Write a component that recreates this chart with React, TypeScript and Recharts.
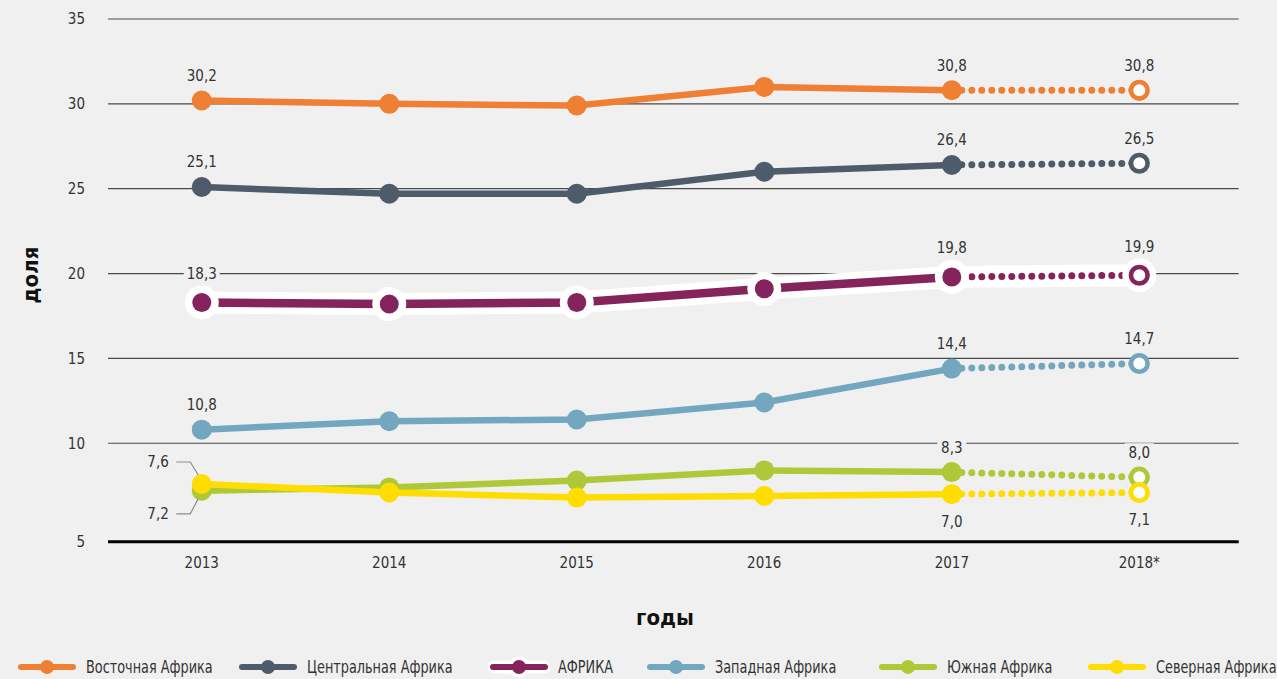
import React from "react";
import { LineChart, Line, XAxis, YAxis, CartesianGrid } from "recharts";

const YEARS = [2013, 2014, 2015, 2016, 2017, 2018];
const YEAR_LABELS = ["2013", "2014", "2015", "2016", "2017", "2018*"];
// the bottom tick sits on the axis line, it is labelled "5"
const Y_TICKS = [4.2, 10, 15, 20, 25, 30, 35];
const Y_TICK_LABELS = ["5", "10", "15", "20", "25", "30", "35"];

const EAST = [30.2, 30.0, 29.9, 31.0, 30.8, 30.8];
const CENTRAL = [25.1, 24.7, 24.7, 26.0, 26.4, 26.5];
const AFRICA = [18.3, 18.2, 18.3, 19.1, 19.8, 19.9];
const WEST = [10.8, 11.3, 11.4, 12.4, 14.4, 14.7];
const SOUTH = [7.2, 7.4, 7.8, 8.4, 8.3, 8.0];
const NORTH = [7.6, 7.1, 6.8, 6.9, 7.0, 7.1];

const LABELLED = [0, 4, 5];
const LAST_ACTUAL = 4;

const FONT = "'Liberation Sans Narrow', 'DejaVu Sans Condensed', 'Roboto', sans-serif";
const BG = "#F0F0F0";
const TEXT = "#333";

type Pos = "above" | "below" | "leftUp" | "leftDown";

const SERIES = [
  { key: "east", name: "Восточная Африка", values: EAST, color: "#EE7F33", width: 6.5, r: 10, pos: ["above", "above", "above"] as Pos[] },
  { key: "central", name: "Центральная Африка", values: CENTRAL, color: "#4E5B6B", width: 6.5, r: 10, pos: ["above", "above", "above"] as Pos[] },
  { key: "africa", name: "АФРИКА", values: AFRICA, color: "#85235D", width: 8.5, r: 9.5, halo: true, pos: ["above", "above", "above"] as Pos[] },
  { key: "west", name: "Западная Африка", values: WEST, color: "#72A7BF", width: 6.5, r: 10, pos: ["above", "above", "above"] as Pos[] },
  { key: "south", name: "Южная Африка", values: SOUTH, color: "#AEC938", width: 6.5, r: 10, pos: ["leftDown", "above", "above"] as Pos[] },
  { key: "north", name: "Северная Африка", values: NORTH, color: "#FFDD00", width: 6.5, r: 10, pos: ["leftUp", "below", "below"] as Pos[] },
];

const LEGEND_X = [20, 241, 492, 649, 881, 1090];

const data = YEARS.map((year, i) => {
  const row: Record<string, number | null> = { year };
  SERIES.forEach((s) => {
    row[s.key] = i <= LAST_ACTUAL ? s.values[i] : null;
    row[s.key + "F"] = i >= LAST_ACTUAL ? s.values[i] : null;
    row[s.key + "H"] = s.values[i];
  });
  return row;
});

const fmt = (v: number) => v.toFixed(1).replace(".", ",");

function DataLabel({ x, y, value, pos, lift }: { x: number; y: number; value: number; pos: Pos; lift: number }) {
  const text = fmt(value);
  const w = text.length * 7 + 8;
  const common = { fontFamily: FONT, fontSize: 15, fill: TEXT, dy: "0.36em" };
  if (pos === "leftUp" || pos === "leftDown") {
    const ty = pos === "leftUp" ? y - 22 : y + 23;
    const ey = pos === "leftUp" ? y - 9 : y + 8;
    return (
      <g>
        <path d={`M${x - 25.5},${ty} L${x - 11.5},${ty} L${x - 3.5},${ey}`} fill="none" stroke="#8c8c8c" strokeWidth={1.2} />
        <text x={x - 33} y={ty} textAnchor="end" {...common}>{text}</text>
      </g>
    );
  }
  const ty = pos === "above" ? y - lift : y + 27;
  return (
    <g>
      <rect x={x - w / 2} y={ty - 9} width={w} height={18} fill={BG} />
      <text x={x} y={ty} textAnchor="middle" {...common}>{text}</text>
    </g>
  );
}

function XTick({ x, y, payload }: any) {
  const i = YEARS.indexOf(payload.value);
  return (
    <text x={x} y={y} dy={18.5} textAnchor="middle" fontFamily={FONT} fontSize={15} fill={TEXT}>
      {YEAR_LABELS[i]}
    </text>
  );
}

function YTick({ x, y, payload }: any) {
  const i = Y_TICKS.indexOf(payload.value);
  return (
    <text x={x - 15} y={y} dy="0.36em" textAnchor="end" fontFamily={FONT} fontSize={15} fill={TEXT}>
      {Y_TICK_LABELS[i]}
    </text>
  );
}

function LegendIcon({ color, halo }: { color: string; halo?: boolean }) {
  return (
    <svg width={62} height={26} style={{ display: "block" }}>
      {halo && (
        <>
          <line x1={6} y1={13} x2={56} y2={13} stroke="#fff" strokeWidth={13} strokeLinecap="round" />
          <circle cx={31} cy={13} r={10.5} fill="#fff" />
        </>
      )}
      <line x1={5} y1={13} x2={57} y2={13} stroke={color} strokeWidth={6} strokeLinecap="round" />
      <circle cx={31} cy={13} r={7} fill={color} />
    </svg>
  );
}

export default function App() {
  return (
    <div style={{ position: "relative", width: 1277, height: 679, background: BG, fontFamily: FONT, overflow: "hidden" }}>
      <style>{`body{margin:0;background:${BG}}`}</style>
      <LineChart width={1277} height={600} data={data} margin={{ top: 19, right: 38.3, left: 0, bottom: 0 }}>
        <CartesianGrid vertical={false} stroke="#4a4a4a" strokeWidth={1.2} />
        <XAxis
          dataKey="year"
          type="number"
          domain={[2012.5, 2018.53]}
          ticks={YEARS}
          allowDataOverflow
          height={58.3}
          axisLine={{ stroke: "#000", strokeWidth: 3 }}
          tickLine={false}
          tick={<XTick />}
          interval={0}
        />
        <YAxis
          type="number"
          domain={[4.2, 35]}
          ticks={Y_TICKS}
          allowDataOverflow
          width={108}
          axisLine={false}
          tickLine={false}
          tick={<YTick />}
          interval={0}
        />
        {SERIES.flatMap((s) => {
          const lift = s.halo ? 29 : 25;
          const lines = [];
          if (s.halo) {
            lines.push(
              <Line
                key={s.key + "H"}
                dataKey={s.key + "H"}
                stroke="#fff"
                strokeWidth={22}
                strokeLinejoin="round"
                isAnimationActive={false}
                dot={(p: any) => (
                  <circle key={`${s.key}H-${p.index}`} cx={p.cx} cy={p.cy} r={17} fill="#fff" />
                )}
                activeDot={false}
              />
            );
          }
          lines.push(
            <Line
              key={s.key}
              dataKey={s.key}
              stroke={s.color}
              strokeWidth={s.width}
              isAnimationActive={false}
              activeDot={false}
              dot={(p: any) => {
                if (p.cx == null || p.cy == null || p.value == null) return <g key={`${s.key}-${p.index}`} />;
                const li = LABELLED.indexOf(p.index);
                return (
                  <g key={`${s.key}-${p.index}`}>
                    <circle cx={p.cx} cy={p.cy} r={s.r} fill={s.color} />
                    {li >= 0 && <DataLabel x={p.cx} y={p.cy} value={p.value} pos={s.pos[li]} lift={lift} />}
                  </g>
                );
              }}
            />
          );
          lines.push(
            <Line
              key={s.key + "F"}
              dataKey={s.key + "F"}
              stroke={s.color}
              strokeWidth={7}
              strokeDasharray="0 10"
              strokeLinecap="round"
              isAnimationActive={false}
              activeDot={false}
              dot={(p: any) => {
                if (p.cx == null || p.cy == null || p.value == null || p.index !== YEARS.length - 1)
                  return <g key={`${s.key}F-${p.index}`} />;
                return (
                  <g key={`${s.key}F-${p.index}`}>
                    <circle cx={p.cx} cy={p.cy} r={8.3} fill="#fff" stroke={s.color} strokeWidth={4.6} />
                    <DataLabel x={p.cx} y={p.cy} value={p.value} pos={s.pos[2]} lift={lift} />
                  </g>
                );
              }}
            />
          );
          return lines;
        })}
      </LineChart>

      <div
        style={{
          position: "absolute", left: 30, top: 275, transform: "translate(-50%, -50%) rotate(-90deg)",
          fontWeight: 700, fontSize: 22, color: "#111", whiteSpace: "nowrap",
        }}
      >
        доля
      </div>
      <div
        style={{
          position: "absolute", left: 665, top: 617, transform: "translate(-50%, -50%)",
          fontWeight: 700, fontSize: 22, color: "#111", whiteSpace: "nowrap",
        }}
      >
        годы
      </div>

      {SERIES.map((s, i) => (
        <div
          key={s.key}
          style={{ position: "absolute", left: LEGEND_X[i] - 4, top: 654, height: 26, display: "flex", alignItems: "center" }}
        >
          <LegendIcon color={s.color} halo={s.halo} />
          <span
            style={{
              marginLeft: 8, fontSize: 17, color: TEXT, whiteSpace: "nowrap",
              display: "inline-block", transform: "scaleX(0.84)", transformOrigin: "left center",
            }}
          >
            {s.name}
          </span>
        </div>
      ))}
    </div>
  );
}
